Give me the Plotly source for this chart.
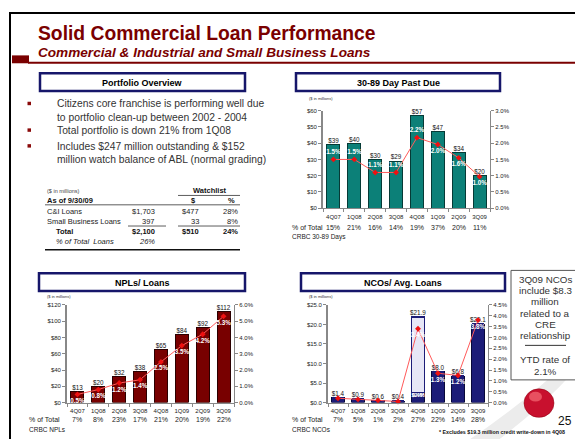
import plotly.graph_objects as go

W, H = 583, 439
def px(x): return x / W
def py(y): return 1 - y / H

FONT = "Arial, Liberation Sans, sans-serif"
NAVY = "#16166a"
DARKRED = "#8a0a0a"

# ---------------- data ----------------
quarters = ['4Q07', '1Q08', '2Q08', '3Q08', '4Q08', '1Q09', '2Q09', '3Q09']

pd_values = [39, 40, 30, 29, 57, 47, 34, 20]
pd_rate = [1.5, 1.5, 1.1, 1.1, 2.17, 1.96, 1.55, 0.97]
pd_rate_labels = ['1.5%', '1.5%', '1.1%', '1.1%', '2.2%', '2.0%', '1.6%', '1.0%']
pd_share = ['15%', '21%', '16%', '14%', '19%', '37%', '20%', '11%']

npl_values = [13, 20, 32, 38, 65, 84, 92, 112]
npl_rate = [0.5, 0.8, 1.2, 1.4, 2.5, 3.5, 4.2, 5.3]
npl_rate_labels = ['0.5%', '0.8%', '1.2%', '1.4%', '2.5%', '3.5%', '4.2%', '5.3%']
npl_share = ['7%', '8%', '23%', '17%', '21%', '20%', '19%', '22%']

nco_values = [1.4, 0.9, 0.6, 0.4, 21.9, 8.0, 6.8, 20.1]
nco_writedown = [0, 0, 0, 0, 19.3, 0, 0, 0]
nco_rate = [0.2, 0.15, 0.1, 0.05, 3.4, 1.35, 1.25, 3.8]
nco_rate_labels = ['', '', '', '', '3.4%', '1.3%', '1.2%', '3.8%']
nco_share = ['7%', '5%', '1%', '2%', '27%', '22%', '14%', '28%']

bullets = [
    ["Citizens core franchise is performing well due", "to portfolio clean-up between 2002 - 2004"],
    ["Total portfolio is down 21% from 1Q08"],
    ["Includes $247 million outstanding & $152", "million watch balance of ABL (normal grading)"],
]

table_rows = [
    ("C&I Loans", "$1,703", "$477", "28%"),
    ("Small Business Loans", "397", "33", "8%"),
]
table_total = ("Total", "$2,100", "$510", "24%")
table_pct = ("% of Total  Loans", "26%")

callout_lines = ["3Q09 NCOs", "include $8.3", "million", "related to a", "CRE", "relationship"]
callout_ytd = ["YTD rate of", "2.1%"]

fig = go.Figure()
shapes = []
ann = []

def text(x, y, t, size, color="#222", xanchor="left", bold=False, italic=False, yanchor="middle"):
    ann.append(dict(x=px(x), y=py(y), xref="paper", yref="paper", text=t, showarrow=False,
                    xanchor=xanchor, yanchor=yanchor, borderpad=0,
                    font=dict(family=FONT, size=size, color=color,
                              weight="bold" if bold else "normal",
                              style="italic" if italic else "normal")))

def line(x0, y0, x1, y1, color="black", width=1):
    shapes.append(dict(type="line", xref="paper", yref="paper", x0=px(x0), y0=py(y0),
                       x1=px(x1), y1=py(y1), line=dict(color=color, width=width)))

def rect(x0, y0, x1, y1, lc, lw, fill="rgba(0,0,0,0)", layer="above"):
    shapes.append(dict(type="rect", xref="paper", yref="paper", x0=px(x0), y0=py(y0),
                       x1=px(x1), y1=py(y1), line=dict(color=lc, width=lw), fillcolor=fill, layer=layer))

def header(x0, y0, x1, y1, t):
    rect(x0, y0, x1, y1, NAVY, 2.5, "white")
    text((x0 + x1) / 2, (y0 + y1) / 2 + 0.5, t, 9, "black", "center", bold=True)

# ---------------- decorations ----------------
sw = "M {} {} Q {} {} {} {} L {} {} Q {} {} {} {} Z".format(
    px(455), py(439), px(535), py(385), px(583), py(330),
    px(583), py(346), px(540), py(398), px(485), py(439))
shapes.append(dict(type="path", xref="paper", yref="paper", path=sw,
                   fillcolor="#ececec", line=dict(width=0), layer="below"))
shapes.append(dict(type="circle", xref="paper", yref="paper", x0=px(516), y0=py(383),
                   x1=px(546), y1=py(412), fillcolor="#c8102e", line=dict(color="#8a0010", width=0.5)))
shapes.append(dict(type="circle", xref="paper", yref="paper", x0=px(521), y0=py(386),
                   x1=px(534), y1=py(396), fillcolor="#e85060", line=dict(width=0)))

rect(2, 2, 580, 436, "black", 2)
line(20, 52.5, 580, 52.5, "#7a0000", 2)
rect(4, 45, 21, 53, "#7a0000", 0, "#7a0000")
text(29, 23, "Solid Commercial Loan Performance", 19.3, "#7a0000", bold=True)
text(29, 42, "Commercial & Industrial and Small Business Loans", 13.6, "#7a0000", bold=True, italic=True)

header(32, 63, 237, 81, "Portfolio Overview")
header(288, 63, 492, 81, "30-89 Day Past Due")
header(31, 266, 237, 284, "NPLs/ Loans")
header(293, 266, 497, 284, "NCOs/ Avg. Loans")

# bullets
bullet_y = [[94, 108], [121], [137, 151]]
for b, ys in zip(bullets, bullet_y):
    rect(19.5, ys[0] - 2, 23, ys[0] + 1.5, DARKRED, 0, DARKRED)
    for ln, yy in zip(b, ys):
        text(48, yy, ln, 10.3, "#333")

# table
text(38, 183, "($ in millions)", 5.5, "#444")
text(202, 182, "Watchlist", 7.5, "#111", "center", bold=True)
line(170, 187, 232, 187, "#333", 0.8)
text(38, 192, "As of 9/30/09", 7.5, "#111", bold=True)
text(185, 192, "$", 7.5, "#111", "center", bold=True)
text(223, 192, "%", 7.5, "#111", "center", bold=True)
line(37, 196.5, 232, 196.5, "#333", 0.8)
ry = 203
for lab, a, b, c in table_rows:
    text(38, ry, lab, 7.5, "#222")
    text(148, ry, a, 7.5, "#222", "right")
    text(192, ry, b, 7.5, "#222", "right")
    text(231, ry, c, 7.5, "#222", "right")
    ry += 10.5
line(120, 218, 158, 218, "#333", 0.8)
line(170, 218, 232, 218, "#333", 0.8)
text(47, 224, table_total[0], 7.5, "#111", bold=True)
text(148, 224, table_total[1], 7.5, "#111", "right", bold=True)
text(192, 224, table_total[2], 7.5, "#111", "right", bold=True)
text(231, 224, table_total[3], 7.5, "#111", "right", bold=True)
text(47, 234, table_pct[0], 7.5, "#222", italic=True)
text(148, 234, table_pct[1], 7.5, "#222", "right", italic=True)
line(37, 242, 232, 242, "#111", 1.5)

# callout box
rect(503, 263, 571, 374, "#555", 1, "white")
cy = 272
for ln in callout_lines:
    text(537, cy, ln, 9.8, "#333", "center")
    cy += 11.5
line(517, 339, 558, 339, "#333", 1)
text(537, 353, callout_ytd[0], 9.8, "#333", "center")
text(537, 365, callout_ytd[1], 9.8, "#333", "center")
text(557, 416, "25", 12, "#111", "center")
text(430, 427, "* Excludes $19.3 million credit write-down in 4Q08", 5.3, "#111", bold=True)

# ---------------- charts ----------------
def axes_common():
    return dict(showgrid=False, zeroline=False, showline=True, linecolor="#888", linewidth=1.3,
                ticks="outside", ticklen=3, tickcolor="#888",
                tickfont=dict(family=FONT, size=6, color="#222"))

charts = [
    dict(xa="x", ya="y", ya2="y2", xd=(315, 482), yd=(200, 101),
         vals=pd_values, rate=pd_rate, rlab=pd_rate_labels, share=pd_share,
         yr=[0, 60], dt=10, yfmt=",.0f", r2=[0, 3], dt2=0.5,
         color="#0c8078", edge="#063a36", vfmt="${:.0f}",
         tpos=["top center"] * 5 + ["bottom center"] * 3,
         sharelab=("% of Total", "CRBC 30-89 Days"), lx=283, rowy=(220, 229),
         unit=(300, 89)),
    dict(xa="x2", ya="y3", ya2="y4", xd=(59, 226), yd=(397, 298),
         vals=npl_values, rate=npl_rate, rlab=npl_rate_labels, share=npl_share,
         yr=[0, 120], dt=20, yfmt=",.0f", r2=[0, 6], dt2=1,
         color="#780000", edge="#2a0000", vfmt="${:.0f}", tpos="bottom center",
         sharelab=("% of Total", "CRBC NPLs"), lx=20, rowy=(414, 424),
         unit=(38, 289)),
    dict(xa="x3", ya="y5", ya2="y6", xd=(320, 480), yd=(397, 298),
         vals=nco_values, rate=nco_rate, rlab=nco_rate_labels, share=nco_share,
         yr=[0, 25], dt=5, yfmt=".1f", r2=[0, 4.5], dt2=0.5,
         color="#1c1c78", edge="#08083a", vfmt="${:.1f}", tpos="bottom center",
         sharelab=("% of Total", "CRBC NCOs"), lx=283, rowy=(414, 424),
         unit=(300, 289)),
]

layout_axes = {}
for i, c in enumerate(charts):
    xa, ya, ya2 = c["xa"], c["ya"], c["ya2"]
    xkey = "xaxis" + xa[1:]
    ykey = "yaxis" + ya[1:]
    y2key = "yaxis" + ya2[1:]
    if i == 2:
        core = [v - w for v, w in zip(c["vals"], nco_writedown)]
        fig.add_trace(go.Bar(x=quarters, y=core, xaxis=xa, yaxis=ya, width=0.62,
                             marker=dict(color=c["color"], line=dict(color=c["edge"], width=1)),
                             showlegend=False, hoverinfo="skip"))
        fig.add_trace(go.Bar(x=quarters, y=nco_writedown, xaxis=xa, yaxis=ya, width=0.62,
                             marker=dict(color="#e6e6f6", line=dict(color=c["color"], width=1.2)),
                             showlegend=False, hoverinfo="skip"))
        fig.add_trace(go.Scatter(x=[quarters[4]], y=[core[4] / 2 + 0.5], xaxis=xa, yaxis=ya,
                                 mode="text", text=["$2.6*"], showlegend=False, hoverinfo="skip",
                                 textfont=dict(family=FONT, size=5.5, color="white", weight="bold")))
    else:
        fig.add_trace(go.Bar(x=quarters, y=c["vals"], xaxis=xa, yaxis=ya, width=0.62,
                             marker=dict(color=c["color"], line=dict(color=c["edge"], width=1)),
                             showlegend=False, hoverinfo="skip"))
    fig.add_trace(go.Scatter(x=quarters, y=c["vals"], xaxis=xa, yaxis=ya, mode="text",
                             text=[c["vfmt"].format(v) for v in c["vals"]], textposition="top center",
                             textfont=dict(family=FONT, size=6.3, color="#111"),
                             showlegend=False, hoverinfo="skip", cliponaxis=False))
    fig.add_trace(go.Scatter(x=quarters, y=c["rate"], xaxis=xa, yaxis=ya2,
                             mode="lines+markers+text", text=c["rlab"], textposition=c["tpos"],
                             textfont=dict(family=FONT, size=6.3, color="white", weight="bold"),
                             line=dict(color="#ff5a5a", width=1),
                             marker=dict(symbol="diamond", size=4.5, color="#ee1111"),
                             showlegend=False, hoverinfo="skip", cliponaxis=False))

    xd = [px(c["xd"][0]), px(c["xd"][1])]
    yd = [py(c["yd"][0]), py(c["yd"][1])]
    xax = axes_common()
    xax.update(domain=xd, anchor=ya, type="category", range=[-0.5, 7.5], tickson="boundaries",
               tickangle=0, ticklabelstandoff=2)
    yax = axes_common()
    yax.update(domain=yd, anchor=xa, range=c["yr"], dtick=c["dt"], tick0=0, tickprefix="$",
               tickformat=c["yfmt"], linewidth=1.8)
    y2ax = axes_common()
    y2ax.update(overlaying=ya, side="right", anchor=xa, range=c["r2"], dtick=c["dt2"], tick0=0,
                ticksuffix="%", tickformat=".1f")
    layout_axes[xkey] = xax
    layout_axes[ykey] = yax
    layout_axes[y2key] = y2ax

    text(c["lx"], c["rowy"][0], c["sharelab"][0], 7, "#222")
    text(c["lx"], c["rowy"][1], c["sharelab"][1], 6.5, "#222")
    for q, s in zip(quarters, c["share"]):
        ann.append(dict(x=q, xref=xa, y=py(c["rowy"][0]), yref="paper", text=s, showarrow=False,
                        xanchor="center", yanchor="middle",
                        font=dict(family=FONT, size=7, color="#222")))
    text(c["unit"][0], c["unit"][1], "($ in millions)", 4, "#333")

ann.append(dict(x=quarters[4], xref="x3", y=0.12, yref="y6", text="0.4%", showarrow=False,
                yanchor="bottom", font=dict(family=FONT, size=5.5, color="white", weight="bold")))

fig.update_layout(
    width=W, height=H, autosize=False,
    margin=dict(l=0, r=0, t=0, b=0),
    paper_bgcolor="white", plot_bgcolor="rgba(0,0,0,0)",
    barmode="stack", bargap=0.38,
    shapes=shapes, annotations=ann,
    font=dict(family=FONT),
    **layout_axes,
)

fig.write_html("out.html")
